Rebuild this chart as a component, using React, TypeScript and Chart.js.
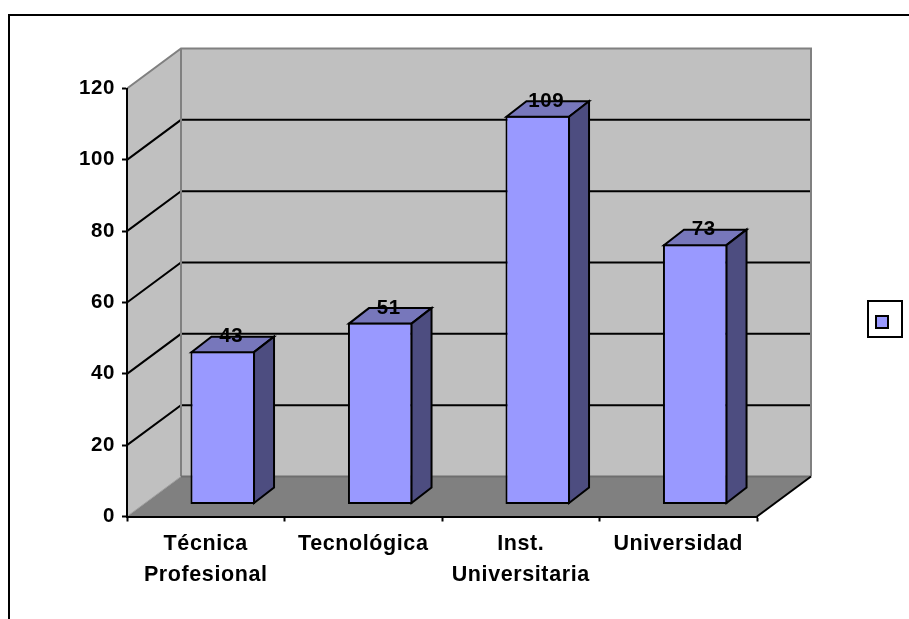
import React, { useEffect, useRef } from "react";
import { Chart, registerables } from "chart.js";

Chart.register(...registerables);

const categories = [["Técnica", "Profesional"], "Tecnológica", ["Inst.", "Universitaria"], "Universidad"];
const seriesValues = [43, 51, 109, 73];
const yTicksMax = 120;
const yTicksStep = 20;

const FONT = '"Liberation Sans", Arial, sans-serif';
const FONT_SIZE = 21.5;
const NUM_FONT_SIZE = 20.5;
const DEPTH_X = 54;
const DEPTH_Y = 40;
const BAR_SHIFT_X = 17;
const BAR_SHIFT_Y = 12;
const BAR_DEPTH_X = 20;
const BAR_DEPTH_Y = 15.5;

const poly = (ctx: CanvasRenderingContext2D, pts: number[][], fill?: string, stroke?: string, lw = 2) => {
  ctx.beginPath();
  pts.forEach((p, i) => (i ? ctx.lineTo(p[0], p[1]) : ctx.moveTo(p[0], p[1])));
  if (fill) {
    ctx.closePath();
    ctx.fillStyle = fill;
    ctx.fill();
  }
  if (stroke) {
    ctx.strokeStyle = stroke;
    ctx.lineWidth = lw;
    ctx.stroke();
  }
};

const scene3d = {
  id: "scene3d",
  beforeDraw(chart: any) {
    const { ctx, chartArea: a, scales } = chart;
    const dx = DEPTH_X;
    const dy = DEPTH_Y;
    ctx.save();
    // page frame
    ctx.fillStyle = "#ffffff";
    ctx.fillRect(0, 0, chart.width, chart.height);
    ctx.strokeStyle = "#000";
    ctx.lineWidth = 2;
    ctx.beginPath();
    ctx.moveTo(9, chart.height);
    ctx.lineTo(9, 15);
    ctx.lineTo(chart.width, 15);
    ctx.stroke();
    // walls
    poly(ctx, [[a.left, a.bottom], [a.left + dx, a.bottom - dy], [a.left + dx, a.top - dy], [a.left, a.top]], "#C0C0C0");
    poly(ctx, [[a.left + dx, a.bottom - dy], [a.right + dx, a.bottom - dy], [a.right + dx, a.top - dy], [a.left + dx, a.top - dy]], "#C0C0C0");
    // floor
    poly(ctx, [[a.left, a.bottom], [a.right, a.bottom], [a.right + dx, a.bottom - dy], [a.left + dx, a.bottom - dy]], "#808080");
    // grid
    const y = scales.y;
    y.ticks.forEach((t: any) => {
      const py = y.getPixelForValue(t.value);
      if (t.value === 0 || t.value === yTicksMax) return;
      poly(ctx, [[a.left, py], [a.left + dx, py - dy], [a.right + dx, py - dy]], undefined, "#000", 2);
    });
    // wall edges
    poly(ctx, [[a.left, a.top], [a.left + dx, a.top - dy], [a.right + dx, a.top - dy], [a.right + dx, a.bottom - dy]], undefined, "#808080", 2);
    poly(ctx, [[a.left + dx, a.top - dy], [a.left + dx, a.bottom - dy]], undefined, "#808080", 2);
    poly(ctx, [[a.left + dx, a.bottom - dy], [a.right + dx, a.bottom - dy]], undefined, "#6E6E6E", 2);
    poly(ctx, [[a.left, a.bottom], [a.left + dx, a.bottom - dy]], undefined, "#A0A0A0", 1);
    poly(ctx, [[a.right, a.bottom], [a.right + dx, a.bottom - dy]], undefined, "#000", 2);
    // legend
    ctx.fillStyle = "#fff";
    ctx.fillRect(868, 301, 34, 36);
    ctx.strokeRect(868, 301, 34, 36);
    ctx.fillStyle = "#9999FF";
    ctx.fillRect(876, 316, 12, 12);
    ctx.strokeRect(876, 316, 12, 12);
    ctx.restore();
    ctx.letterSpacing = "0.6px";
  },
  beforeDatasetsDraw(chart: any) {
    chart.ctx.save();
    chart.ctx.translate(BAR_SHIFT_X, -BAR_SHIFT_Y);
  },
  afterDatasetsDraw(chart: any) {
    const { ctx } = chart;
    const meta = chart.getDatasetMeta(0);
    const dx = BAR_DEPTH_X;
    const dy = BAR_DEPTH_Y;
    ctx.lineJoin = "miter";
    meta.data.forEach((bar: any) => {
      const l = bar.x - bar.width / 2 + 1;
      const r = bar.x + bar.width / 2 - 1;
      const t = bar.y + 1;
      const b = bar.base - 1;
      poly(ctx, [[l, t], [r, t], [r + dx, t - dy], [l + dx, t - dy]], "#7777BB", "#000", 2);
      poly(ctx, [[r, t], [r + dx, t - dy], [r + dx, b - dy], [r, b]], "#4D4D80", "#000", 2);
    });
    ctx.restore();
    // value labels
    ctx.save();
    ctx.font = `bold ${NUM_FONT_SIZE}px ${FONT}`;
    ctx.fillStyle = "#000";
    ctx.textAlign = "center";
    ctx.textBaseline = "middle";
    meta.data.forEach((bar: any, i: number) => {
      ctx.fillText(String(seriesValues[i]), bar.x + BAR_SHIFT_X + 8.5, bar.y - BAR_SHIFT_Y - 14.5);
    });
    ctx.restore();
  },
};

export default function App() {
  const ref = useRef<HTMLCanvasElement>(null);
  useEffect(() => {
    const chart = new Chart(ref.current as HTMLCanvasElement, {
      type: "bar",
      data: {
        labels: categories as any,
        datasets: [
          {
            label: "",
            data: seriesValues,
            backgroundColor: "#9999FF",
            borderColor: "#000000",
            borderWidth: 2,
            borderSkipped: false,
            barPercentage: 0.41,
            categoryPercentage: 1,
            clip: false as any,
          },
        ],
      },
      options: {
        animation: false,
        responsive: false,
        devicePixelRatio: 1,
        layout: { autoPadding: false, padding: { left: 67, top: 88.5, right: 152, bottom: 2.5 } },
        plugins: { legend: { display: false }, title: { display: false }, tooltip: { enabled: false } },
        scales: {
          x: {
            afterFit: (s: any) => { s.height = 100; },
            border: { display: true, color: "#000", width: 2 },
            grid: { drawOnChartArea: false, drawTicks: true, tickLength: 5, tickColor: "#000", tickWidth: 2 },
            ticks: {
              color: "#000",
              maxRotation: 0,
              autoSkip: false,
              padding: 8,
              font: { family: FONT, size: FONT_SIZE, weight: "bold", lineHeight: 1.4 },
            },
          },
          y: {
            min: 0,
            max: yTicksMax,
            afterFit: (s: any) => { s.width = 60; },
            border: { display: true, color: "#000", width: 2 },
            grid: { drawOnChartArea: false, drawTicks: true, tickLength: 5, tickColor: "#000", tickWidth: 2 },
            ticks: {
              stepSize: yTicksStep,
              color: "#000",
              padding: 7,
              font: { family: FONT, size: NUM_FONT_SIZE, weight: "bold" },
            },
          },
        },
      } as any,
      plugins: [scene3d as any],
    });
    return () => chart.destroy();
  }, []);
  return (
    <div style={{ position: "fixed", left: 0, top: 0, width: 909, height: 619, background: "#fff" }}>
      <canvas ref={ref} width={909} height={619} style={{ display: "block" }} />
    </div>
  );
}
